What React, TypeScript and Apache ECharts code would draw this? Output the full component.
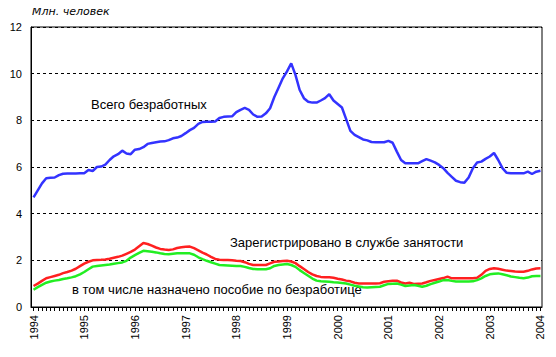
import React, { useEffect, useRef } from "react";
import * as echarts from "echarts";

const startYear = 1994;
const yearTicks = [1994, 1995, 1996, 1997, 1998, 1999, 2000, 2001, 2002, 2003, 2004];
const yTicks = [0, 2, 4, 6, 8, 10, 12];

// Всего безработных (monthly, Jan 1994 .. Jan 2004)
const totalUnemployed = [
  4.70, 5.00, 5.30, 5.52, 5.54, 5.55, 5.65, 5.71, 5.72, 5.72, 5.72, 5.73,
  5.73, 5.87, 5.83, 6.00, 6.02, 6.10, 6.30, 6.46, 6.55, 6.70, 6.58, 6.55,
  6.74, 6.77, 6.85, 6.99, 7.03, 7.06, 7.09, 7.10, 7.15, 7.23, 7.26, 7.33,
  7.45, 7.58, 7.68, 7.85, 7.93, 7.94, 7.94, 7.95, 8.10, 8.15, 8.16, 8.17,
  8.35, 8.45, 8.53, 8.45, 8.25, 8.15, 8.16, 8.30, 8.52, 9.00, 9.40, 9.80,
  10.10, 10.44, 9.95, 9.30, 8.95, 8.80, 8.76, 8.76, 8.85, 8.95, 9.12, 8.85,
  8.70, 8.55, 8.05, 7.55, 7.38, 7.28, 7.18, 7.14, 7.07, 7.06, 7.06, 7.06,
  7.12, 7.04, 6.66, 6.30, 6.16, 6.16, 6.16, 6.16, 6.25, 6.34, 6.27, 6.20,
  6.09, 5.95, 5.75, 5.58, 5.41, 5.35, 5.33, 5.55, 5.95, 6.19, 6.23, 6.35,
  6.45, 6.60, 6.30, 5.95, 5.75, 5.73, 5.73, 5.73, 5.73, 5.80, 5.70, 5.80,
  5.84,
];

// Зарегистрировано в службе занятости
const registered = [
  0.90, 1.00, 1.12, 1.23, 1.28, 1.33, 1.38, 1.45, 1.50, 1.56, 1.64, 1.75,
  1.86, 1.94, 2.00, 2.01, 2.02, 2.04, 2.07, 2.11, 2.15, 2.20, 2.28, 2.36,
  2.46, 2.60, 2.74, 2.70, 2.63, 2.55, 2.49, 2.46, 2.44, 2.47, 2.53, 2.56,
  2.58, 2.59, 2.52, 2.43, 2.33, 2.25, 2.15, 2.06, 2.03, 2.01, 2.01, 2.00,
  1.98, 1.97, 1.92, 1.85, 1.80, 1.80, 1.80, 1.80, 1.87, 1.94, 1.95, 1.97,
  1.98, 1.95, 1.88, 1.75, 1.63, 1.50, 1.40, 1.33, 1.29, 1.27, 1.27, 1.25,
  1.21, 1.18, 1.13, 1.10, 1.04, 1.01, 1.01, 1.01, 1.01, 1.01, 1.02, 1.08,
  1.10, 1.12, 1.13, 1.05, 1.01, 1.04, 0.99, 1.00, 1.01, 1.06, 1.12, 1.16,
  1.20, 1.24, 1.30, 1.23, 1.23, 1.23, 1.23, 1.23, 1.23, 1.25, 1.38, 1.55,
  1.63, 1.66, 1.64, 1.60, 1.56, 1.54, 1.52, 1.51, 1.51, 1.55, 1.61, 1.65,
  1.66,
];

// в том числе назначено пособие по безработице
const withBenefit = [
  0.74, 0.85, 0.95, 1.04, 1.09, 1.13, 1.16, 1.20, 1.23, 1.27, 1.32, 1.40,
  1.50, 1.62, 1.73, 1.76, 1.78, 1.80, 1.82, 1.85, 1.88, 1.91, 1.98, 2.12,
  2.22, 2.32, 2.41, 2.39, 2.37, 2.34, 2.30, 2.27, 2.26, 2.28, 2.30, 2.30,
  2.30, 2.30, 2.24, 2.13, 2.05, 1.98, 1.92, 1.86, 1.80, 1.79, 1.78, 1.77,
  1.76, 1.76, 1.72, 1.67, 1.63, 1.62, 1.62, 1.62, 1.66, 1.76, 1.80, 1.82,
  1.84, 1.80, 1.72, 1.58, 1.46, 1.34, 1.22, 1.13, 1.10, 1.09, 1.08, 1.06,
  1.05, 1.03, 1.01, 0.96, 0.91, 0.88, 0.85, 0.84, 0.85, 0.86, 0.87, 0.93,
  0.99, 1.00, 1.01, 0.96, 0.90, 0.92, 0.94, 0.91, 0.87, 0.91, 0.98, 1.04,
  1.09, 1.15, 1.16, 1.12, 1.09, 1.09, 1.09, 1.09, 1.10, 1.15, 1.23, 1.33,
  1.40, 1.42, 1.44, 1.40, 1.36, 1.31, 1.28, 1.25, 1.23, 1.26, 1.32, 1.33,
  1.33,
];

const toPairs = (arr: number[]) => arr.map((v, i) => [startYear + i / 12, v]);
const monthTicks = totalUnemployed.map((_, i) => startYear + i / 12);

const FONT = "Arial, 'Liberation Sans', sans-serif";

export default function App() {
  const ref = useRef<HTMLDivElement>(null);
  useEffect(() => {
    if (!ref.current) return;
    const chart = echarts.init(ref.current, undefined, { renderer: "svg" });
    const lineSeries = (name: string, data: number[], color: string) => ({
      name,
      type: "line",
      data: toPairs(data),
      showSymbol: false,
      symbol: "none",
      lineStyle: { color, width: 2.5 },
      itemStyle: { color },
      z: 5,
    });
    chart.setOption({
      animation: false,
      backgroundColor: "#fff",
      grid: {
        left: 31,
        right: 14,
        top: 27,
        bottom: 50,
        show: true,
        borderColor: "#000",
        borderWidth: 1,
        backgroundColor: "transparent",
      },
      xAxis: {
        type: "value",
        min: 1993.95,
        max: 2004.03,
        axisLine: { show: true, onZero: false, lineStyle: { color: "#000", width: 1 } },
        axisTick: {
          show: true,
          customValues: monthTicks,
          length: 4,
          lineStyle: { color: "#000", width: 1 },
        },
        axisLabel: {
          customValues: yearTicks,
          rotate: 90,
          margin: 8,
          color: "#000",
          fontSize: 11,
          fontFamily: FONT,
          formatter: (v: number) => String(Math.round(v)),
        },
        splitLine: { show: false },
      },
      yAxis: {
        type: "value",
        min: 0,
        max: 12,
        interval: 2,
        axisLine: { show: true, lineStyle: { color: "#000", width: 1 } },
        axisTick: { show: false },
        axisLabel: {
          color: "#000",
          fontSize: 11,
          fontFamily: FONT,
          margin: 9,
          formatter: (v: number) => (yTicks.includes(v) ? String(v) : ""),
        },
        splitLine: {
          show: true,
          lineStyle: { color: "#000", width: 1, type: [3, 3] },
        },
      },
      graphic: [
        {
          type: "text",
          left: 32,
          top: 6,
          style: {
            text: "Млн. человек",
            font: "italic 11px 'DejaVu Sans', sans-serif",
            fill: "#000",
          },
        },
        {
          type: "text",
          left: 91,
          top: 98,
          style: { text: "Всего безработных", font: `13px ${FONT}`, fill: "#000" },
        },
        {
          type: "text",
          left: 230,
          top: 236,
          style: { text: "Зарегистрировано в службе занятости", font: `13px ${FONT}`, fill: "#000" },
        },
        {
          type: "text",
          left: 72,
          top: 283,
          style: {
            text: "в том числе назначено пособие по безработице",
            font: `13px ${FONT}`,
            fill: "#000",
          },
        },
      ],
      series: [
        lineSeries("Всего безработных", totalUnemployed, "#3333FF"),
        lineSeries("Зарегистрировано в службе занятости", registered, "#FF2020"),
        lineSeries("в том числе назначено пособие по безработице", withBenefit, "#22EE22"),
      ],
    });
    return () => chart.dispose();
  }, []);
  return <div ref={ref} style={{ width: 556, height: 357, margin: -8 }} />;
}
